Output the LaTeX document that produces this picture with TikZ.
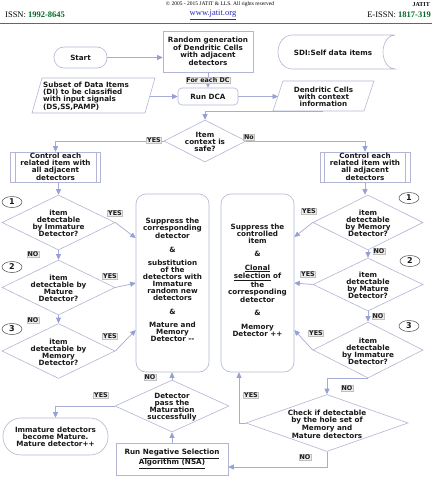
\documentclass[tikz,border=0pt]{standalone}
\usepackage{fontspec}
\setmainfont{Liberation Serif}
\newfontfamily\fc{DejaVu Sans}
\usetikzlibrary{shapes.geometric,arrows.meta,calc}
\definecolor{bd}{RGB}{178,182,212}
\definecolor{ln}{RGB}{165,172,214}
\definecolor{ah}{RGB}{150,160,214}
\definecolor{tx}{RGB}{25,25,25}
\definecolor{grn}{RGB}{0,105,40}
\definecolor{lnk}{RGB}{40,40,190}
\begin{document}
\begin{tikzpicture}[x=1pt,y=-1pt,
  every node/.style={font=\fc\bfseries\fontsize{7.2}{7}\selectfont, text=tx, align=center, inner sep=0pt},
  box/.style={draw=bd, line width=0.6pt},
  dia/.style={diamond, draw=bd, line width=0.6pt, inner sep=0pt},
  arr/.style={draw=ln, line width=0.7pt, -{Triangle[width=5pt,length=5.5pt,color=ah]}},
  lbl/.style={fill=gray!15, draw=gray!50, line width=0.3pt, inner sep=0.7pt, font=\fc\bfseries\fontsize{6.4}{7}\selectfont},
  circ/.style={ellipse, draw=black!70, line width=0.5pt, minimum width=20pt, minimum height=11pt, font=\fc\bfseries\fontsize{8}{8}\selectfont},
  hdr/.style={font=\rmfamily\fontsize{8.5}{9}\selectfont, text=black}]
\useasboundingbox (0,0) rectangle (432,479);
\clip (0,0) rectangle (432,479);
\fill[white] (0,0) rectangle (432,479);
% header
\node[hdr, font=\rmfamily\fontsize{5.5}{6}\selectfont] (hd0) at (220,4) {\textcopyright\ 2005 - 2015 JATIT \& LLS. All rights reserved};
\node[hdr, font=\rmfamily\bfseries\fontsize{6}{6}\selectfont, anchor=east] (hd1) at (430,4.5) {JATIT};
\node[hdr, anchor=west] (hd2) at (5,15) {ISSN: \textcolor{grn}{\textbf{1992-8645}}};
\node[hdr, text=lnk] (hd3) at (213,15) {\underline{www.jatit.org}};
\node[hdr, anchor=east] (hd4) at (431,15) {E-ISSN: \textcolor{grn}{\textbf{1817-319}}};
\draw[black!60, line width=0.5pt] (0,23) -- (432,23);

% top row
\node[box, rounded corners=10pt, minimum width=53pt, minimum height=21pt] (start) at (80.5,57.5) {Start};
\node[box, minimum width=90pt, minimum height=41pt] (rnd) at (208,51.5) {Random generation\\of Dendritic Cells\\with adjacent\\detectors};
\node[box, rounded corners=4pt, minimum width=60pt, minimum height=17pt] (dca) at (208,96.5) {Run DCA};
\draw[box] (395,35) -- (292,35) arc[start angle=90,end angle=270,x radius=14pt,y radius=17pt] -- (395,69) arc[start angle=-90,end angle=-270,x radius=12pt,y radius=17pt];
\node (sdi) at (333,53) {SDI:Self data items};
\draw[box] (42,78) -- (155,78) -- (145,113) -- (32,113) -- cycle;
\node[align=left, anchor=west] (subset) at (43,96.5) {Subset of Data Items\\(DI) to be classified\\with input signals\\(DS,SS,PAMP)};
\draw[box] (283,81) -- (374,81) -- (364,111) -- (273,111) -- cycle;
\node (dcinfo) at (323.5,96.5) {Dendritic Cells\\with context\\information};
\coordinate (dcb) at (323,111);
\coordinate (subr) at (150,96.5);
\coordinate (dcl) at (278,96.5);

% decision safe
\node[dia, minimum width=82pt, minimum height=42pt] (safe) at (205,141) {};
\node (safet) at (205,142) {Item\\context is\\safe?};

% control boxes
\node[box, minimum width=90pt, minimum height=30pt] (ctrlL) at (55.5,167) {Control each\\related item with\\all adjacent\\detectors};
\node[box, minimum width=90pt, minimum height=30pt] (ctrlR) at (365,167) {Control each\\related item with\\all adjacent\\detectors};
\foreach \n in {ctrlL,ctrlR}{
  \draw[bd, line width=0.6pt] ([xshift=5pt]\n.north west) -- ([xshift=5pt]\n.south west);
  \draw[bd, line width=0.6pt] ([xshift=-5pt]\n.north east) -- ([xshift=-5pt]\n.south east);
}

% left diamonds
\node[dia, minimum width=113pt, minimum height=55pt] (d1) at (58.5,222.5) {};
\node (d1t) at (58.5,223.5) {item\\detectable\\by Immature\\Detector?};
\node[dia, minimum width=113pt, minimum height=55pt] (d2) at (58.5,287.5) {};
\node (d2t) at (58.5,288.5) {item\\detectable by\\Mature\\Detector?};
\node[dia, minimum width=113pt, minimum height=55pt] (d3) at (58.5,351) {};
\node (d3t) at (58.5,352) {item\\detectable by\\Memory\\Detector?};
\node[circ] (c1) at (12,202) {1};
\node[circ] (c2) at (12,267) {2};
\node[circ] (c3) at (12,329) {3};

% right diamonds
\node[dia, minimum width=110pt, minimum height=55pt] (r1) at (368,222.5) {};
\node (r1t) at (368,223.5) {item\\detectable\\by Memory\\Detector?};
\node[dia, minimum width=110pt, minimum height=53pt] (r2) at (368,284.5) {};
\node (r2t) at (368,285.5) {item\\detectable\\by Mature\\Detector?};
\node[dia, minimum width=110pt, minimum height=56pt] (r3) at (368,350) {};
\node (r3t) at (368,351) {item\\detectable\\by Immature\\Detector?};
\node[circ] (rc1) at (409,198) {1};
\node[circ] (rc2) at (410,261) {2};
\node[circ] (rc3) at (409,326) {3};

% big boxes
\node[box, rounded corners=10pt, minimum width=73pt, minimum height=178pt] (boxL) at (172.5,283) {};
\node (boxLt) at (172.5,280) {Suppress the\\corresponding\\detector\\[6.5pt]\&\\[6.5pt]substitution\\of the\\detectors with\\Immature\\random new\\detectors\\[6.5pt]\&\\[6.5pt]Mature and\\Memory\\Detector -{}-};
\node[box, rounded corners=10pt, minimum width=73pt, minimum height=178pt] (boxR) at (257.5,283) {};
\node (boxRt) at (257.5,280) {Suppress the\\controlled\\item\\[6.5pt]\&\\[6.5pt]\underline{Clonal}\\\underline{selection} of\\the\\corresponding\\detector\\[6.5pt]\&\\[6.5pt]Memory\\Detector ++};

% bottom
\node[dia, minimum width=114pt, minimum height=52pt] (det) at (172,406) {};
\node (dett) at (172,407) {Detector\\pass the\\Maturation\\successfully};
\node[box, minimum width=112pt, minimum height=32pt] (nsa) at (172,459) {Run \underline{Negative Selection}\\\underline{Algorithm (NSA)}};
\node[box, rounded corners=18pt, minimum width=105pt, minimum height=37pt] (imm) at (55.5,436.5) {Immature detectors\\become Mature.\\Mature detector++};
\node[dia, minimum width=162pt, minimum height=57pt] (chk) at (327,423) {};
\node (chkt) at (327,424) {Check if detectable\\by the hole set of\\Memory and\\Mature detectors};

% connectors
\draw[arr] (start.east) -- (start.east -| rnd.west);
\draw[arr] (rnd.south) -- (dca.north) node[midway, lbl] (fe) {For each DC};
\draw[arr] (subr) -- (dca.west);
\draw[arr] (dca.east) -- (dcl);
\draw[arr] (dcb) -| (safe.north);
\draw[arr] (safe.west) -| (ctrlL.north);
\draw[arr] (safe.east) -| (ctrlR.north);
\draw[arr] (ctrlL.south -| d1.north) -- (d1.north);
\draw[arr] (ctrlR.south) -- (ctrlR.south |- r1.north);
\draw[arr] (d1.south) -- (d2.north);
\draw[arr] (d2.south) -- (d3.north);
\draw[arr] (r1.south) -- (r2.north);
\draw[arr] (r2.south) -- (r3.north);
\draw[arr] (d1.east) -- (boxL.west |- {(0,238)});
\draw[arr] (d2.east) -- (boxL.west |- {(0,283)});
\draw[arr] (d3.east) -- (boxL.west |- {(0,330)});
\draw[arr] (r1.west) -- (boxR.east |- {(0,237)});
\draw[arr] (r2.west) -- (boxR.east |- {(0,283)});
\draw[arr] (r3.west) -- (boxR.east |- {(0,330)});
\draw[arr] (nsa.north) -- (det.south);
\draw[arr] (det.north) -- (boxL.south -| det.north);
\draw[arr] (det.west) -| (imm.north);
\draw[arr] (r3.south) -| (chk.north);
\draw[arr] (chk.west) -| ([xshift=-18.5pt]boxR.south);
\draw[arr] (chk.south) |- ([yshift=-8pt]nsa.east);

% labels
\node[lbl] (l1) at (154,140) {YES};
\node[lbl] (l2) at (249,137) {No};
\node[lbl] (l3) at (115,213) {YES};
\node[lbl] (l4) at (110,276) {YES};
\node[lbl] (l5) at (110,336) {YES};
\node[lbl] (l6) at (33,254) {NO};
\node[lbl] (l7) at (33,320) {NO};
\node[lbl] (l8) at (309,211) {YES};
\node[lbl] (l9) at (308,274) {YES};
\node[lbl] (l10) at (316,333) {YES};
\node[lbl] (l11) at (379,251) {NO};
\node[lbl] (l12) at (378,316) {NO};
\node[lbl] (l13) at (150,377) {NO};
\node[lbl] (l14) at (101,395) {YES};
\node[lbl] (l15) at (347,388) {NO};
\node[lbl] (l16) at (251,395) {YES};
\node[lbl] (l17) at (305,457) {NO};
\end{tikzpicture}
\end{document}
